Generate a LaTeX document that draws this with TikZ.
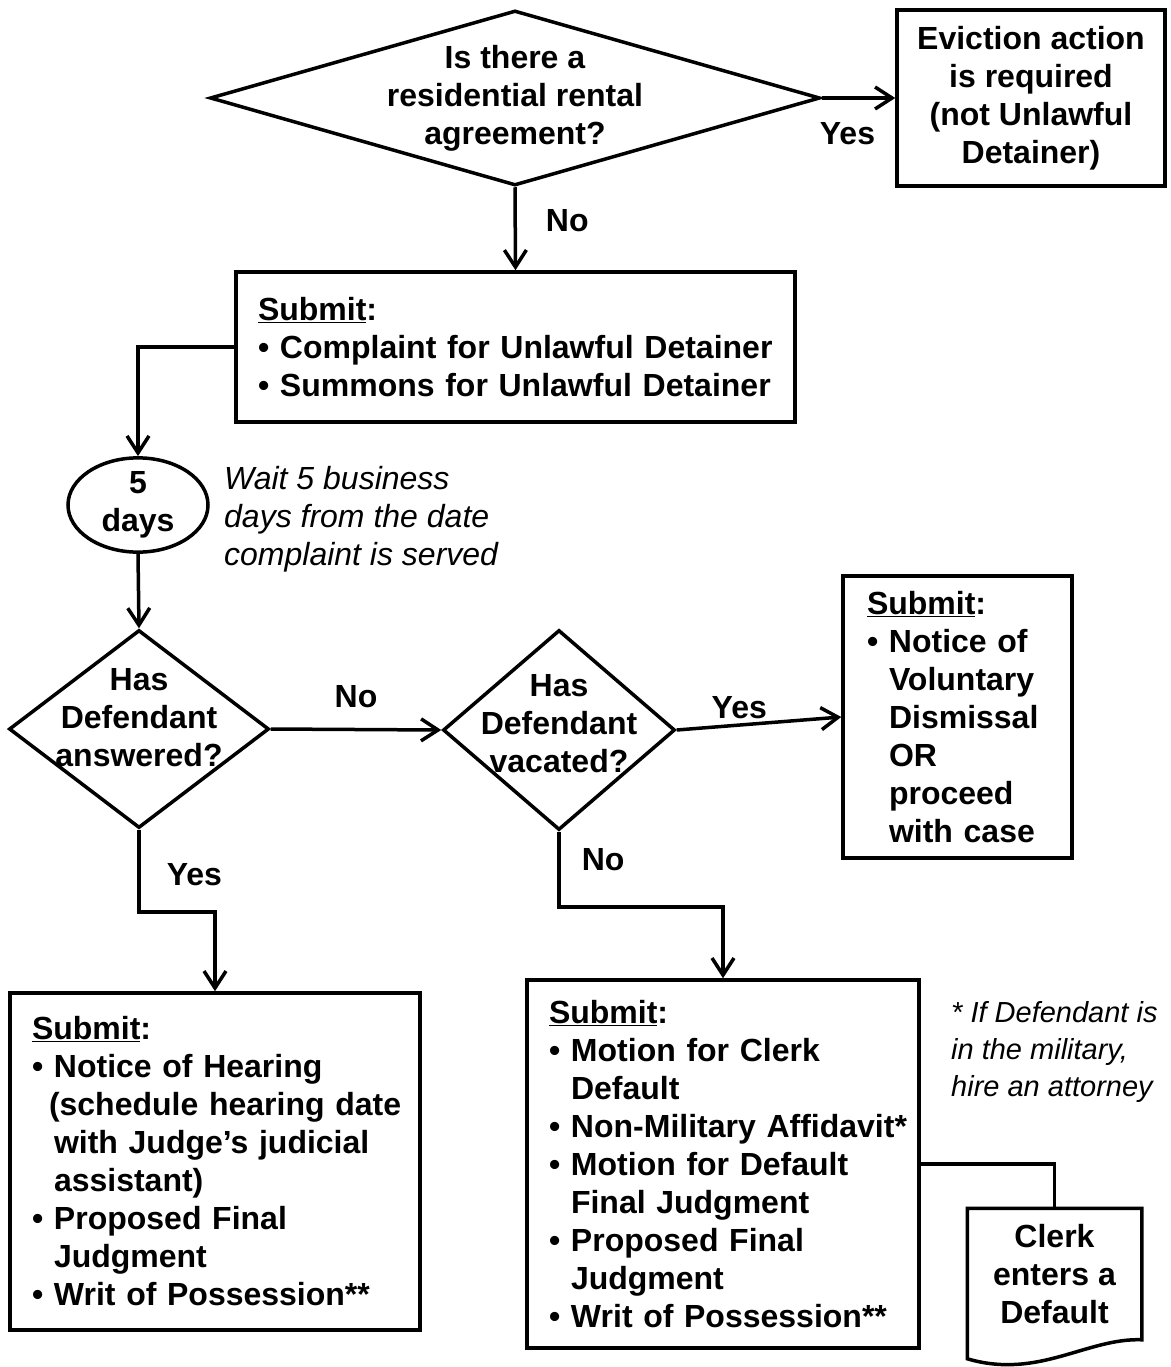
\documentclass[tikz,border=0pt]{standalone}
\usepackage{fontspec}
\setmainfont{Liberation Sans}
\usetikzlibrary{shapes.geometric,arrows.meta,positioning}
\newcommand{\bitem}[1]{\mbox{\makebox[22pt][l]{•}#1}}
\newcommand{\bcont}[1]{\mbox{\hspace*{22pt}#1}}
\newcommand{\submithead}{\underline{Submit}:}
\tikzset{
  every node/.style={font=\bfseries\fontsize{32}{38}\selectfont},
  box/.style={draw, line width=3.5pt, rectangle, inner xsep=22pt, inner ysep=0pt, align=left},
  cbox/.style={draw, line width=3.5pt, rectangle, inner sep=0pt, align=center},
  dec/.style={diamond, draw, line width=3.5pt, inner sep=0pt},
  qtext/.style={inner sep=0pt, align=center},
  lab/.style={inner sep=0pt},
  note/.style={font=\itshape\fontsize{32}{38}\selectfont, inner sep=0pt, align=left},
  arr/.style={line width=3.5pt, -{Straight Barb[length=17pt,width=22pt]}}
}
\begin{document}
\begin{tikzpicture}[x=1pt,y=-1pt]
	\useasboundingbox (0,0) rectangle (1170,1367);
	\node[dec, minimum width=610pt, minimum height=175pt, label={[qtext]center:{Is there a\\residential rental\\agreement?}}] (rental) at (515,98) {};
	\node[cbox, minimum width=268pt, minimum height=176pt] (eviction) at (1031,98) {Eviction action\\is required\\(not Unlawful\\Detainer)};
	\node[box, text width=515pt, minimum height=150pt] (complaint) at (515.5,347) {\submithead\\\bitem{Complaint for Unlawful Detainer}\\\bitem{Summons for Unlawful Detainer}};
	\node[ellipse, draw, line width=3.5pt, minimum width=140pt, minimum height=90pt, inner sep=0pt, align=center] (days) at (138,505) {5\\days};
	\node[note, anchor=west] (wait) at (224,519) {Wait 5 business\\days from the date\\complaint is served};
	\node[dec, minimum width=260pt, minimum height=198pt, label={[qtext,yshift=11pt]center:{Has\\Defendant\\answered?}}] (answered) at (139,729) {};
	\node[dec, minimum width=232pt, minimum height=200pt, label={[qtext,yshift=6pt]center:{Has\\Defendant\\vacated?}}] (vacated) at (559,730) {};
	\node[box, inner xsep=24pt, text width=181pt, minimum height=282pt] (dismissal) at (957.5,717) {\submithead\\\bitem{Notice of}\\\bcont{Voluntary}\\\bcont{Dismissal}\\\bcont{OR}\\\bcont{proceed}\\\bcont{with case}};
	\node[box, text width=366pt, minimum height=337pt] (hearing) at (215,1161.5) {\submithead\\\bitem{Notice of Hearing}\\\mbox{\hspace*{17pt}(schedule hearing date}\\\bcont{with Judge’s judicial}\\\bcont{assistant)}\\\bitem{Proposed Final}\\\bcont{Judgment}\\\bitem{Writ of Possession**}};
	\node[box, text width=348pt, minimum height=368pt] (default) at (723,1164) {\submithead\\\bitem{Motion for Clerk}\\\bcont{Default}\\\bitem{Non-Military Affidavit*}\\\bitem{Motion for Default}\\\bcont{Final Judgment}\\\bitem{Proposed Final}\\\bcont{Judgment}\\\bitem{Writ of Possession**}};
	\node[note, font=\itshape\fontsize{29}{37}\selectfont, anchor=west] (military) at (951,1052) {* If Defendant is\\in the military,\\hire an attorney};
	\node[cbox, draw=none, minimum width=171pt, minimum height=128pt] (clerk) at (1054.5,1274) {Clerk\\enters a\\Default};
	\draw[line width=3.5pt] (clerk.north west) -- (clerk.north east) -- (clerk.south east) .. controls +(-55,-2) and +(71,21) .. ([yshift=-19pt]clerk.south west) -- cycle;
	\draw[arr] (rental.east) -- node[lab, pos=0.35, below=23pt]{Yes} (eviction.west);
	\draw[arr] (rental.south) -- node[lab, pos=0.4, right=29pt]{No} (complaint.north);
	\draw[arr] (complaint.west) -| (days.north);
	\draw[arr] (days.south) -- (answered.north);
	\draw[arr] (answered.east) -- node[lab, midway, above=20pt]{No} (vacated.west);
	\draw[arr] (vacated.east) -- node[lab, pos=0.38, above=5pt]{Yes} (dismissal.west);
	\draw[arr] (answered.south) -- node[lab, pos=0.55, right=26pt]{Yes} ++(0,82) -| (hearing.north);
	\draw[arr] (vacated.south) -- node[lab, pos=0.37, right=21pt]{No} ++(0,75) -| (default.north);
	\draw[line width=3.5pt] (default.east) -| (clerk.north);
\end{tikzpicture}
\end{document}
